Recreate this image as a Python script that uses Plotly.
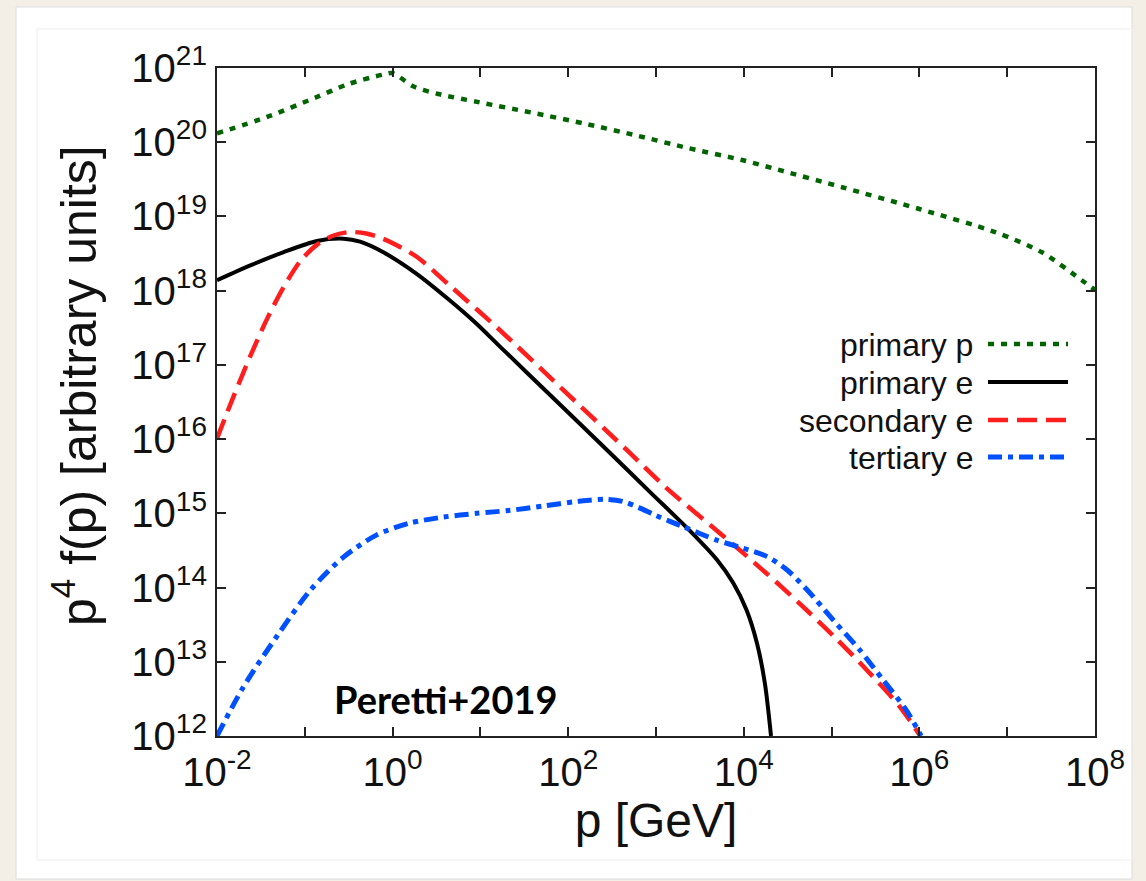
import plotly.graph_objects as go

# ---------------- data (p in GeV, p^4 f(p) in arbitrary units) ----------------
p_primary_p = [1e-2, 10**-1.43, 10**-0.86, 10**-0.49, 10**-0.11, 10**0.0, 10**0.24, 10**0.52,
               10**0.98, 10**1.58, 10**2.19, 10**2.78, 10**3.37, 10**3.98, 10**4.39, 10**5.13,
               10**6.0, 10**6.86, 10**7.39, 10**7.85, 1e8]
f_primary_p = [10**20.12, 10**20.34, 10**20.61, 10**20.79, 10**20.91, 10**20.93, 10**20.75, 10**20.65,
               10**20.54, 10**20.40, 10**20.25, 10**20.09, 10**19.92, 10**19.76, 10**19.63, 10**19.39,
               10**19.10, 10**18.79, 10**18.52, 10**18.14, 10**18.01]

p_primary_e = [1e-2, 10**-1.62, 10**-1.24, 10**-0.86, 10**-0.56, 10**-0.37, 10**-0.11, 10**0.27,
               10**0.65, 10**0.95, 10**1.22, 10**1.85, 10**2.48, 10**2.93, 10**3.39, 10**3.69,
               10**3.88, 10**4.03, 10**4.15, 10**4.24, 10**4.31]
f_primary_e = [10**18.14, 10**18.34, 10**18.52, 10**18.67, 10**18.70, 10**18.66, 10**18.52, 10**18.23,
               10**17.87, 10**17.56, 10**17.25, 10**16.53, 10**15.81, 10**15.29, 10**14.76, 10**14.38,
               10**14.06, 10**13.70, 10**13.25, 10**12.71, 10**12.0]

p_secondary_e = [1e-2, 10**-1.81, 10**-1.62, 10**-1.43, 10**-1.24, 10**-1.05, 10**-0.86, 10**-0.68,
                 10**-0.49, 10**-0.30, 10**-0.11, 10**0.27, 10**0.65, 10**1.22, 10**1.91,
                 10**2.67, 10**3.12, 10**3.62, 10**3.92, 10**4.26, 10**4.64, 10**5.02, 10**5.40,
                 10**5.78, 10**6.01]
f_secondary_e = [10**16.01, 10**16.58, 10**17.12, 10**17.62, 10**18.05, 10**18.40, 10**18.62, 10**18.74,
                 10**18.79, 10**18.77, 10**18.70, 10**18.46, 10**18.07, 10**17.47, 10**16.70,
                 10**15.85, 10**15.34, 10**14.84, 10**14.54, 10**14.19, 10**13.78, 10**13.35, 10**12.89,
                 10**12.39, 10**12.0]

p_tertiary_e = [1e-2, 10**-1.70, 10**-1.32, 10**-0.94, 10**-0.56, 10**-0.18, 10**0.20, 10**0.58,
                10**0.96, 10**1.34, 10**1.72, 10**2.10, 10**2.42, 10**2.62, 10**2.80, 10**3.0, 10**3.31,
                10**3.69, 10**3.99, 10**4.26, 10**4.49, 10**4.72, 10**5.02, 10**5.32, 10**5.59,
                10**5.85, 10**6.02]
f_tertiary_e = [10**12.0, 10**12.66, 10**13.34, 10**13.96, 10**14.41, 10**14.71, 10**14.87, 10**14.95,
                10**15.0, 10**15.04, 10**15.10, 10**15.16, 10**15.19, 10**15.16, 10**15.08, 10**14.97, 10**14.82,
                10**14.64, 10**14.53, 10**14.42, 10**14.24, 10**13.97, 10**13.56, 10**13.16, 10**12.75,
                10**12.35, 10**12.0]

series_names = ["primary p", "primary e", "secondary e", "tertiary e"]
series_colors = ["#006400", "#000000", "#ff1e1e", "#0050ff"]
series_dash = ["6px,7px", "solid", "20px,9px", "14px,6px,5px,6px"]
series_width = [4.5, 4, 4.5, 5]

x_exponents = list(range(-2, 9))
y_exponents = list(range(12, 22))

x_title = "p [GeV]"
y_title = "p<sup>4</sup> f(p) [arbitrary units]"
citation = "<b>Peretti+2019</b>"

FONT = "Liberation Sans, Arial, sans-serif"

fig = go.Figure()
series = [(p_primary_p, f_primary_p), (p_primary_e, f_primary_e),
          (p_secondary_e, f_secondary_e), (p_tertiary_e, f_tertiary_e)]
for (xs, ys), name, c, d, w in zip(series, series_names, series_colors, series_dash, series_width):
    fig.add_trace(go.Scatter(x=xs, y=ys, mode="lines", name=name, showlegend=False,
                             line=dict(color=c, dash=d, width=w, shape="spline", smoothing=0.8)))

# plot area in pixels
L, R, T, B = 217, 1095, 68, 736
W, H = 1146, 881


def px_x(x):
    return (x - L) / (R - L)


def px_y(y):
    return (B - y) / (B - T)


shapes = []
# white card and faint inner frame on the beige page
shapes.append(dict(type="rect", xref="paper", yref="paper", layer="below",
                   x0=px_x(16), x1=px_x(1132), y0=px_y(879), y1=px_y(7),
                   fillcolor="white", line=dict(color="#dcdcdc", width=1)))
shapes.append(dict(type="rect", xref="paper", yref="paper", layer="below",
                   x0=px_x(37), x1=px_x(1133), y0=px_y(860), y1=px_y(29),
                   fillcolor="rgba(0,0,0,0)", line=dict(color="#eeeeee", width=1)))

annotations = []
legend_rows = [344, 382, 420, 457]
for name, c, d, w, yrow in zip(series_names, series_colors, series_dash, series_width, legend_rows):
    annotations.append(dict(xref="paper", yref="paper", x=px_x(975), y=px_y(yrow + 1),
                            xanchor="right", yanchor="middle", showarrow=False, text=name,
                            font=dict(family=FONT, size=32, color="#111")))
    shapes.append(dict(type="line", xref="paper", yref="paper",
                       x0=px_x(988), x1=px_x(1068), y0=px_y(yrow), y1=px_y(yrow),
                       line=dict(color=c, dash=d, width=w)))

annotations.append(dict(xref="paper", yref="paper", x=px_x(446), y=px_y(699),
                        xanchor="center", yanchor="middle", showarrow=False,
                        text=citation,
                        font=dict(family="Lato, Open Sans, sans-serif", size=38, color="#000")))

# y-axis title as a rotated annotation
annotations.append(dict(xref="paper", yref="paper", x=px_x(75), y=px_y(386),
                        xanchor="center", yanchor="middle", showarrow=False, textangle=-90,
                        text=y_title, font=dict(family=FONT, size=50, color="#111")))

fig.update_layout(
    width=W, height=H,
    margin=dict(l=L, r=W - R, t=T, b=H - B, autoexpand=False),
    paper_bgcolor="#f3efe7",
    plot_bgcolor="white",
    shapes=shapes,
    annotations=annotations,
    font=dict(family=FONT, color="#111"),
)

fig.update_xaxes(
    type="log", range=[-2, 8],
    tickvals=[10.0 ** e for e in x_exponents],
    ticktext=[("10<sup>%d</sup>" % e) if e % 2 == 0 else "" for e in x_exponents],
    ticks="inside", ticklen=9, tickwidth=1.5, tickcolor="#222",
    showline=True, linecolor="#222", linewidth=2, mirror="ticks",
    showgrid=False, zeroline=False,
    tickfont=dict(family=FONT, size=40, color="#111"),
    title=dict(text=x_title, font=dict(family=FONT, size=48, color="#111"), standoff=2),
)
fig.update_yaxes(
    type="log", range=[12, 21],
    tickvals=[10.0 ** e for e in y_exponents],
    ticktext=["10<sup>%d</sup>" % e for e in y_exponents],
    ticks="inside", ticklen=9, tickwidth=1.5, tickcolor="#222",
    showline=True, linecolor="#222", linewidth=2, mirror="ticks",
    showgrid=False, zeroline=False,
    tickfont=dict(family=FONT, size=40, color="#111"),
)

fig.write_html("out.html")
